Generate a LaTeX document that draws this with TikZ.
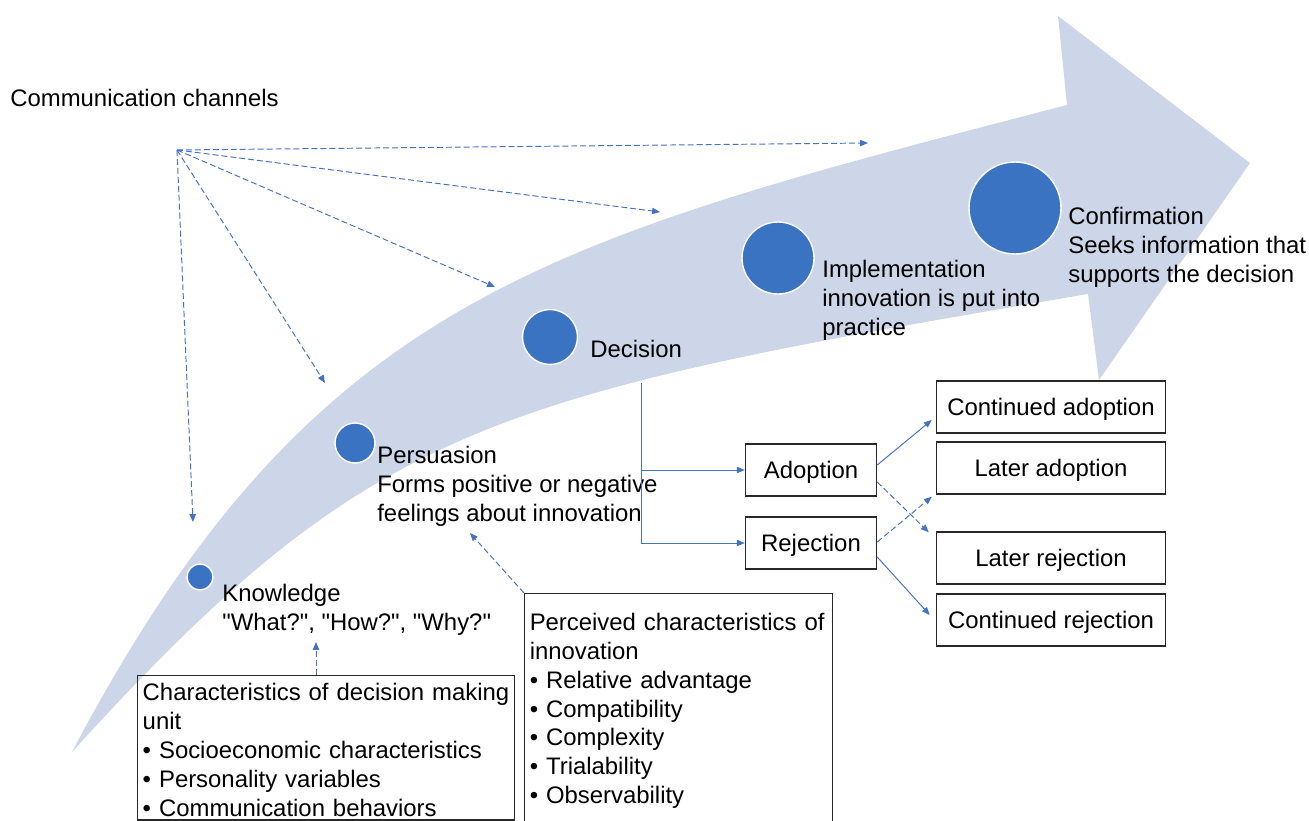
\documentclass[tikz,border=0pt]{standalone}
\usepackage{fontspec}
\setmainfont{Liberation Sans}[Ligatures=TeXOff]
\usetikzlibrary{arrows.meta,calc,positioning}
\definecolor{bandfill}{RGB}{205,213,232}
\definecolor{stageblue}{RGB}{59,115,195}
\definecolor{linkblue}{RGB}{68,114,196}
\definecolor{boxline}{RGB}{40,40,40}
\tikzset{
  every node/.style={font=\fontsize{13.6}{16.5}\selectfont},
  stage/.style={circle,fill=stageblue,draw=white,line width=0.8pt,inner sep=0},
  lbl/.style={anchor=north west,inner sep=0,align=left},
  choice/.style={draw=boxline,line width=0.85pt,inner sep=0,minimum width=2.62cm,minimum height=1.04cm,text height=9.7pt,text depth=0pt},
  result/.style={choice,minimum width=4.58cm},
  factor/.style={draw=boxline,line width=0.85pt,anchor=north west,align=left,inner xsep=0.1cm},
  flow/.style={draw=linkblue,line width=0.55pt,-{Triangle[length=4.5pt,width=3.6pt]}},
  chan/.style={flow,dash pattern=on 3.4pt off 1.7pt}
}

\begin{document}
\begin{tikzpicture}[x=0.02cm,y=-0.02cm]
    \useasboundingbox (0,0) rectangle (1309,821);
    \clip (0,0) rectangle (1309,821);
    \fill[bandfill] (72,752) .. controls (312,296) and (547,240) .. (1067,105)
      -- (1058,16) -- (1250,163) -- (1099,380) -- (1088,294)
      .. controls (488,396) and (372,422) .. (72,752) -- cycle;

    \node[stage,minimum size=0.52cm] (k) at (200,577) {};
    \node[stage,minimum size=0.8cm] (p) at (355,443) {};
    \node[stage,minimum size=1.1cm] (d) at (550,337) {};
    \node[stage,minimum size=1.44cm] (i) at (778,258) {};
    \node[stage,minimum size=1.84cm] (c) at (1015,208) {};

    \node[lbl] (chl) at (10,85.7) {\strut Communication channels};
    \node[lbl] (know) at (222,580.7) {\strut Knowledge\\"What?", "How?", "Why?"};
    \node[lbl] (pers) at (377,442.7) {\strut Persuasion\\Forms positive or negative\\feelings about innovation};
    \node[lbl] (deci) at (590,336.7) {\strut Decision};
    \node[lbl] (impl) at (822,256.7) {\strut Implementation\\innovation is put into\\practice};
    \node[lbl] (conf) at (1068,203.7) {\strut Confirmation\\Seeks information that\\supports the decision};

    \node[choice] (adopt) at (811,470) {Adoption};
    \node[choice] (reject) at (811,543) {Rejection};
    \node[result] (contadopt) at (1051,407) {Continued adoption};
    \node[result] (lateradopt) at (1051,468) {Later adoption};
    \node[result] (laterrej) at (1051,558) {Later rejection};
    \node[result] (contrej) at (1051,620) {Continued rejection};

    \node[factor,inner ysep=0.08cm,text width=7.34cm] (dmu) at (137,675) {\strut Characteristics of decision making\\unit\\• Socioeconomic characteristics\\• Personality variables\\• Communication behaviors};
    \node[factor,inner ysep=0.32cm,text width=5.96cm] (pci) at (524,593) {\strut Perceived characteristics of\\innovation\\• Relative advantage\\• Compatibility\\• Complexity\\• Trialability\\• Observability};

    \coordinate (src) at (177,150);
    \foreach \n/\x/\y in {1/868/143,2/660/212,3/495/287,4/325/383,5/193/522} {
      \coordinate (ch\n) at (\x,\y);
      \draw[chan] (src) -- (ch\n);
    }

    \coordinate (split) at (641,383);
    \draw[flow] (split) |- (adopt.west);
    \draw[flow] (split) |- (reject.west);

    \draw[flow] ($(adopt.east)+(0,-5)$) -- ($(contadopt.west)+(-4,13)$);
    \draw[chan] ($(adopt.east)+(0,12)$) -- ($(laterrej.north west)+(-7,1)$);
    \draw[chan] ($(reject.east)+(0,-1)$) -- ($(lateradopt.south west)+(-4,2)$);
    \draw[flow] ($(reject.east)+(0,14)$) -- ($(contrej.west)+(-6,-5)$);

    \coordinate (kin) at (316,642);
    \draw[chan] (dmu.north -| kin) -- (kin);
    \coordinate (pin) at (470,533);
    \draw[chan] (pci.north west) -- (pin);
\end{tikzpicture}
\end{document}
